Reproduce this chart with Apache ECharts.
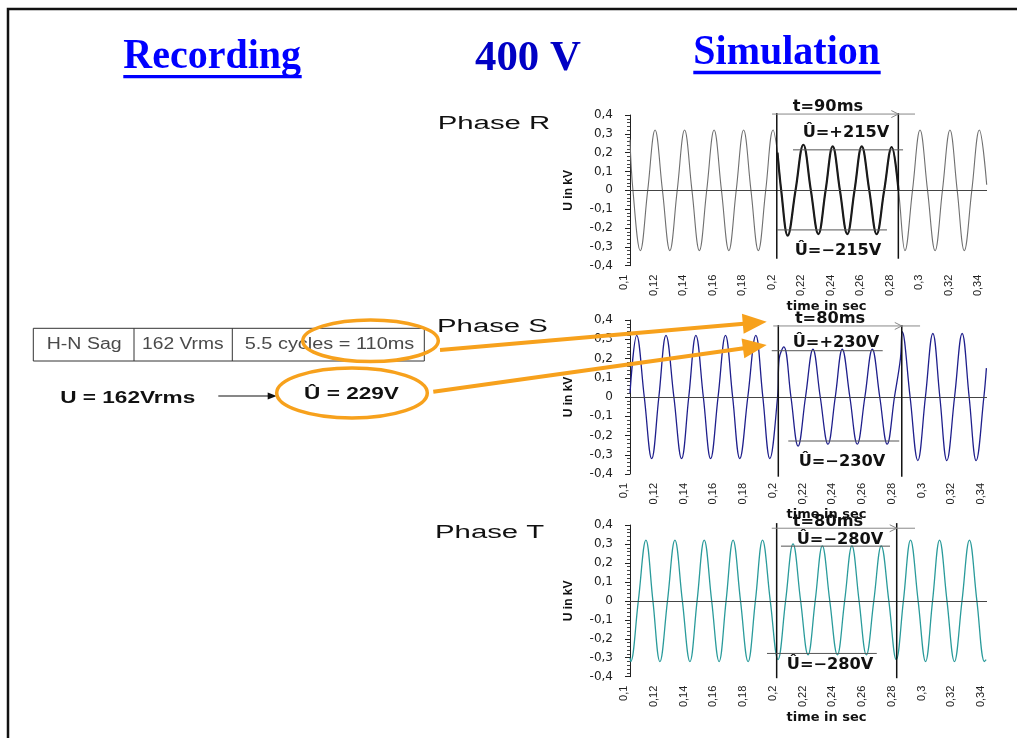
<!DOCTYPE html>
<html><head><meta charset="utf-8">
<script src="https://cdn.jsdelivr.net/npm/echarts@6/dist/echarts.min.js"></script>
<style>html,body{margin:0;padding:0;background:#fff}#c{width:1017px;height:738px}</style>
</head><body><div id="c"></div>
<script>
// ---------- tick labels ----------
const xTickLabels = ['0,1','0,12','0,14','0,16','0,18','0,2','0,22','0,24','0,26','0,28','0,3','0,32','0,34'];
const yTickLabels = ['-0,4','-0,3','-0,2','-0,1','0','0,1','0,2','0,3','0,4'];
const phaseNames = ['Phase R','Phase S','Phase T'];

// ---------- Phase R (time s, U kV): before / during / after the sag ----------
const rPre = [[0.1,0.27],[0.102,0],[0.107,-0.32],[0.112,0],[0.117,0.32],[0.122,0],[0.127,-0.32],[0.132,0],[0.137,0.32],[0.142,0],[0.147,-0.32],[0.152,0],[0.157,0.32],[0.162,0],[0.167,-0.32],[0.172,0],[0.177,0.32],[0.182,0],[0.187,-0.32],[0.192,0],[0.197,0.32]];
const rSag = [[0.2,0.2],[0.2025,0],[0.2069,-0.24],[0.2122,0],[0.2175,0.242],[0.2226,0],[0.2277,-0.232],[0.2326,0],[0.2374,0.233],[0.2423,0],[0.2473,-0.232],[0.2522,0],[0.2571,0.233],[0.2622,0],[0.2672,-0.232],[0.2723,0],[0.2774,0.23],[0.282,0]];
const rPost = [[0.2864,-0.32],[0.2915,0],[0.2966,0.32],[0.3017,0],[0.3068,-0.32],[0.3118,0],[0.3169,0.32],[0.3218,0],[0.3266,-0.32],[0.3317,0],[0.3368,0.32],[0.3418,0.03]];

// ---------- Phase S ----------
const sPre = [[0.1,0.02],[0.1045,0.32],[0.1096,0],[0.1146,-0.32],[0.1194,0],[0.1242,0.32],[0.1295,0],[0.1347,-0.32],[0.1395,0],[0.1443,0.32],[0.1493,0],[0.1542,-0.32],[0.1592,0],[0.1642,0.32],[0.169,0],[0.1738,-0.32],[0.1792,0],[0.1846,0.32],[0.1893,0],[0.194,-0.32],[0.1992,0]];
const sSag = [[0.2003,0.2],[0.2034,0.26],[0.2082,0],[0.213,-0.255],[0.218,0],[0.223,0.248],[0.2279,0],[0.2331,-0.245],[0.238,0],[0.2427,0.248],[0.2478,0],[0.2528,-0.245],[0.2579,0],[0.2629,0.248],[0.2679,0],[0.2729,-0.245],[0.2778,0],[0.2818,0.2]];
const sPost = [[0.283,0.34],[0.2883,0],[0.2935,-0.33],[0.2986,0],[0.3036,0.33],[0.3083,0],[0.313,-0.33],[0.3182,0],[0.3233,0.33],[0.328,0],[0.3327,-0.33],[0.3379,0],[0.3396,0.15]];

// ---------- Phase T ----------
const tPre = [[0.1,-0.3],[0.1005,-0.32],[0.1056,0],[0.1107,0.32],[0.1154,0],[0.1201,-0.32],[0.1252,0],[0.1302,0.32],[0.1352,0],[0.1403,-0.32],[0.1451,0],[0.1499,0.32],[0.1549,0],[0.1599,-0.32],[0.1646,0],[0.1693,0.32],[0.1743,0],[0.1794,-0.32],[0.1843,0],[0.1891,0.32],[0.1943,0]];
const tSag = [[0.1995,-0.31],[0.2046,0],[0.2096,0.3],[0.2147,0],[0.2197,-0.285],[0.2245,0],[0.2293,0.29],[0.2343,0],[0.2394,-0.285],[0.2443,0],[0.2492,0.29],[0.254,0],[0.2589,-0.285],[0.2639,0],[0.2689,0.29],[0.274,0],[0.279,-0.31]];
const tPost = [[0.2838,0],[0.2886,0.32],[0.2937,0],[0.2987,-0.32],[0.3034,0],[0.3081,0.32],[0.3131,0],[0.3181,-0.32],[0.3232,0],[0.3282,0.32],[0.3332,0],[0.3383,-0.32],[0.3394,-0.31]];

// ---------- annotation values (data coordinates) ----------
const sagLines = [[0.1995,0.2819],[0.1997,0.2827],[0.1986,0.2793]];           // vertical sag limits
const sagLineSpan = [[0.41,-0.363],[0.374,-0.414],[0.41,-0.408]];
const ampLines = [ // [U, from t, to t]
  [[0.215,0.2105,0.2851],[-0.21,0.1997,0.2742]],
  [[0.2405,0.1953,0.2699],[-0.2286,0.2064,0.281]],
  [[0.2885,0.2015,0.2748],[-0.2774,0.1921,0.2659]]
];
const durArrows = [[0.405,0.1963,0.2932],[0.369,0.1963,0.295],[0.383,0.1953,0.2916]]; // [U, from, to]
const annTexts = [
  [['t=90ms',0.2342,0.442],['Û=+215V',0.2464,0.305],['Û=−215V',0.241,-0.321]],
  [['t=80ms',0.2345,0.404],['Û=+230V',0.2385,0.279],['Û=−230V',0.2425,-0.336]],
  [['t=80ms',0.2331,0.417],['Û=−280V',0.2412,0.32],['Û=−280V',0.2345,-0.339]]
];
const recTable = ['H-N Sag','162 Vrms','5.5 cycles = 110ms'];

// ---------- layout ----------
const grids = [
  {left:630, width:357, top:115, height:150.7},
  {left:630, width:357, top:320, height:154},
  {left:630, width:357, top:525, height:151.7}
];
const xMax = [0.342, 0.34, 0.34];
const xNameGap = [33, 28, 34];
const lineColors = ['#707070','#1f1f8c','#2a9b9b'];
const SANS = '"Liberation Sans", Arial, sans-serif';
const SERIF = '"Liberation Serif", "Times New Roman", serif';
const DEJA = '"DejaVu Sans", sans-serif';

const zeroLine = {silent:true, symbol:['none','none'], label:{show:false},
  lineStyle:{color:'#444', width:1, type:'solid'}, data:[{yAxis:0}]};

const option = {
  animation:false,
  backgroundColor:'#ffffff',
  grid: grids,
  xAxis: grids.map((g,i)=>({
    gridIndex:i, type:'value', min:0.1, max:xMax[i], interval:0.02,
    axisLine:{show:false, onZero:false}, axisTick:{show:false}, splitLine:{show:false},
    axisLabel:{rotate:90, fontSize:11, fontFamily:SANS, color:'#222', margin:9, lineHeight:12,
      showMinLabel:true, showMaxLabel: i!==0,
      formatter: v => (xTickLabels[Math.round((v-0.1)/0.02)] || '') + '\n '},
    name:'time in sec', nameLocation:'middle', nameGap:xNameGap[i],
    nameTextStyle:{fontFamily:DEJA, fontWeight:'bold', fontSize:13, color:'#111', padding:[0,0,0,36]}
  })),
  yAxis: grids.map((g,i)=>({
    gridIndex:i, type:'value', min:-0.4, max:0.4, interval:0.1,
    axisLine:{show:true, onZero:false, lineStyle:{color:'#222', width:1}},
    axisTick:{show:true, length:5, lineStyle:{color:'#222'}},
    minorTick:{show:true, splitNumber:5, length:3, lineStyle:{color:'#444'}},
    splitLine:{show:false},
    axisLabel:{fontFamily:DEJA, fontSize:12, color:'#222', margin:17,
      formatter: v => yTickLabels[Math.round((v+0.4)/0.1)]},
    name:'U in kV', nameLocation:'middle', nameRotate:90, nameGap:55,
    nameTextStyle:{fontFamily:SANS, fontWeight:'bold', fontSize:12, color:'#111'}
  })),
  series: [
    {type:'line', xAxisIndex:0, yAxisIndex:0, data:rPre.concat(rSag, rPost), smooth:0.4, symbol:'none',
      lineStyle:{color:lineColors[0], width:1.1}, markLine:zeroLine},
    {type:'line', xAxisIndex:0, yAxisIndex:0, data:rSag, smooth:0.4, symbol:'none',
      lineStyle:{color:'#1a1a1a', width:2.2}},
    {type:'line', xAxisIndex:1, yAxisIndex:1, data:sPre.concat(sSag, sPost), smooth:0.4, symbol:'none',
      lineStyle:{color:lineColors[1], width:1.3}, markLine:zeroLine},
    {type:'line', xAxisIndex:2, yAxisIndex:2, data:tPre.concat(tSag, tPost), smooth:0.4, symbol:'none',
      lineStyle:{color:lineColors[2], width:1.3}, markLine:zeroLine}
  ]
};

const chart = echarts.init(document.getElementById('c'), null, {renderer:'canvas'});
chart.setOption(option);

// ---------- graphics ----------
function txt(text, x, y, o) {
  o = o || {};
  const al = o.align || 'center';
  return {type:'text', x:x, y:y, scaleX:o.sx || 1, scaleY:o.sy || 1, z:o.z || 60,
    style:{text:text, fill:o.color || '#111', fontSize:o.size || 14, fontFamily:o.family || SANS,
      fontWeight:o.weight || 'normal', align:al, textAlign:al, verticalAlign:'middle', textVerticalAlign:'middle'}};
}
function line(x1,y1,x2,y2,color,w,z){
  return {type:'line', z:z||55, shape:{x1:x1,y1:y1,x2:x2,y2:y2}, style:{stroke:color, lineWidth:w, lineCap:'butt'}};
}
function arrow(x1,y1,x2,y2,color,w,L,W,z){
  const dx=x2-x1, dy=y2-y1, len=Math.hypot(dx,dy), ux=dx/len, uy=dy/len;
  const bx=x2-ux*L, by=y2-uy*L, nx=-uy, ny=ux;
  return [line(x1,y1,bx+ux*1,by+uy*1,color,w,z),
    {type:'polygon', z:z||55, shape:{points:[[x2,y2],[bx+nx*W/2,by+ny*W/2],[bx-nx*W/2,by-ny*W/2]]}, style:{fill:color}}];
}
const G = [];
// slide frame
G.push({type:'polyline', z:1, shape:{points:[[8,745],[8,9],[1025,9]]}, style:{stroke:'#111', lineWidth:2.5, fill:null}});
// titles
G.push(txt('Recording',123.3,57.2,{align:'left',size:40,family:SERIF,weight:'bold',color:'#0000ff',sy:1.08}));
G.push({type:'rect', shape:{x:123.3,y:75,width:178.4,height:3.3}, style:{fill:'#0000ff'}});
G.push(txt('400 V',475,59.2,{align:'left',size:40,family:SERIF,weight:'bold',color:'#0000c4',sx:1.07,sy:1.08}));
G.push(txt('Simulation',693.3,53,{align:'left',size:40,family:SERIF,weight:'bold',color:'#0000ff',sy:1.08}));
G.push({type:'rect', shape:{x:693.3,y:70.7,width:187.4,height:3.6}, style:{fill:'#0000ff'}});
// phase labels
[[437.7,124.5],[437,327.5],[435,533]].forEach((p,i)=>G.push(txt(phaseNames[i],p[0],p[1],{align:'left',size:18,sx:1.63,color:'#111'})));
// recording table
G.push({type:'rect', shape:{x:33.3,y:328.3,width:391,height:32.7}, style:{fill:null, stroke:'#333', lineWidth:1}});
G.push(line(134,328.3,134,361,'#333',1));
G.push(line(232.3,328.3,232.3,361,'#333',1));
[[84.2,1.22],[182.8,1.2],[329.5,1.245]].forEach((p,i)=>G.push(txt(recTable[i],p[0],345,{size:16,sx:p[1],color:'#4a4a4a'})));
G.push(txt('U = 162Vrms',127.7,398.3,{size:17,weight:'bold',sx:1.33,color:'#111'}));
arrow(218.3,396,276.7,396,'#111',1.2,9,7).forEach(e=>G.push(e));
G.push(txt('Û = 229V',351.5,394.5,{size:17,weight:'bold',sx:1.33,color:'#111'}));
// orange highlights
G.push({type:'ellipse', z:90, shape:{cx:370.5,cy:340.8,rx:67.8,ry:20.8}, style:{fill:null, stroke:'#f7a11c', lineWidth:3.5}});
G.push({type:'ellipse', z:90, shape:{cx:352,cy:393,rx:75.3,ry:25}, style:{fill:null, stroke:'#f7a11c', lineWidth:3.5}});
arrow(440,350,766.7,321.7,'#f7a11c',4,24,20,95).forEach(e=>G.push(e));
arrow(433.3,391.7,766.7,345,'#f7a11c',4,24,20,95).forEach(e=>G.push(e));

// chart annotations (converted from data coordinates)
const P = (i,x,y)=>chart.convertToPixel({gridIndex:i},[x,y]);
for (let i=0;i<3;i++){
  sagLines[i].forEach(t=>{
    const a=P(i,t,sagLineSpan[i][0]), b=P(i,t,sagLineSpan[i][1]);
    G.push(line(a[0],a[1],b[0],b[1],'#111',1.5,56));
  });
  ampLines[i].forEach(h=>{
    const a=P(i,h[1],h[0]), b=P(i,h[2],h[0]);
    G.push(line(a[0],a[1],b[0],b[1],'#555',1,56));
  });
  const d=durArrows[i];
  const a=P(i,d[1],d[0]), b=P(i,d[2],d[0]), h=P(i,sagLines[i][1],d[0]);
  G.push(line(a[0],a[1],b[0],b[1],'#888',1,56));
  G.push({type:'polyline', z:57, shape:{points:[[h[0]-7,h[1]-3.5],[h[0],h[1]],[h[0]-7,h[1]+3.5]]}, style:{stroke:'#888', lineWidth:1, fill:null}});
  annTexts[i].forEach(t=>{
    const p=P(i,t[1],t[2]);
    G.push(txt(t[0],p[0],p[1],{size:15,weight:'bold',family:DEJA,color:'#111',z:70,sx:1.08}));
  });
}
chart.setOption({graphic:G});
</script>
</body></html>
